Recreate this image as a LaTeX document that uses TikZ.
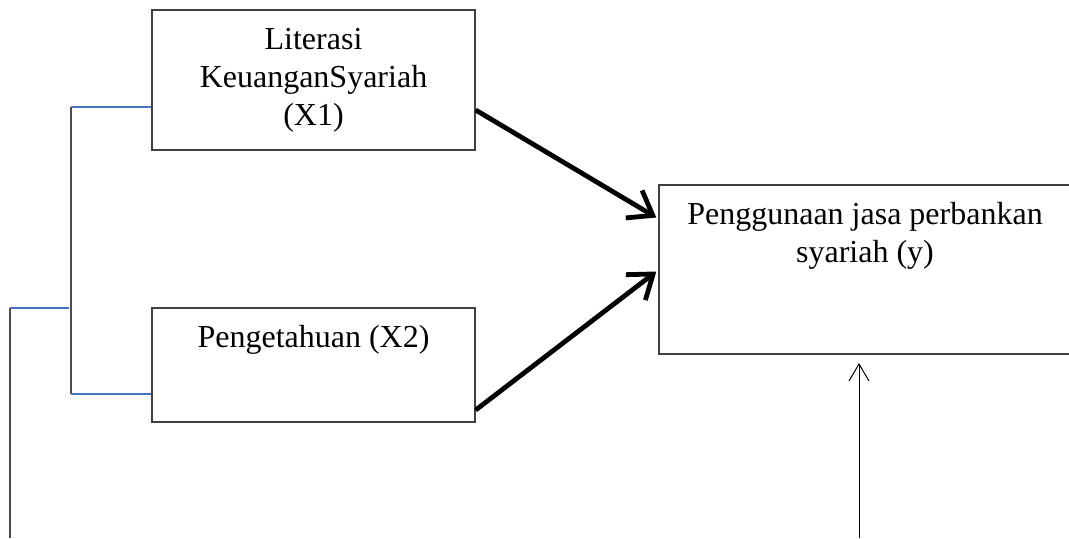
\documentclass[tikz,border=0pt]{standalone}
\usepackage{fontspec}
\setmainfont{Liberation Serif}
\usetikzlibrary{arrows.meta,positioning}
\definecolor{garisbiru}{HTML}{4472C4}

\begin{document}
\begin{tikzpicture}[x=0.5pt, y=-0.5pt, font=\fontsize{16}{19}\selectfont,
  box/.style={draw=black!75, line width=0.65pt, minimum width=161.5pt, inner sep=0pt},
  lbl/.style={anchor=base, inner sep=0pt, align=center},
  panah/.style={-{Straight Barb[length=11pt,width=16pt]}, line width=2.4pt},
  panahtipis/.style={-{Straight Barb[length=8.5pt,width=10pt]}, line width=0.5pt},
  abu/.style={draw=black!70, line width=0.75pt},
  biru/.style={draw=garisbiru, line width=0.6pt}]
\useasboundingbox (0,0) rectangle (1069,538);

% kotak variabel
\node[box, minimum height=70pt] (lit) at (313.5,80) {};
\node[box, minimum height=57pt] (peng) at (313.5,365) {};
\node[box, minimum width=206pt, minimum height=84.5pt] (guna) at (865,269.5) {};

% teks (base = baris terakhir)
\node[lbl] (litT) at (313.5,125) {Literasi\\KeuanganSyariah\\(X1)};
\node[lbl] (pengT) at (313.5,347) {Pengetahuan (X2)};
\node[lbl] (gunaT) at (865,262) {Penggunaan jasa perbankan\\syariah (y)};

% panah pengaruh
\draw[panah] ([yshift=-15pt]lit.east) -- ([yshift=26pt,xshift=-1pt]guna.west);
\draw[panah] ([yshift=-22.5pt]peng.east) -- ([yshift=-1pt,xshift=-1pt]guna.west);

% garis kurung kiri
\coordinate (kA) at (71,107);
\coordinate (kB) at (71,394);
\coordinate (kC) at (71,308);
\coordinate (kD) at (10,308);
\coordinate (kE) at (10,538);
\draw[abu] (kA) -- (kB);
\draw[biru] (kA) -- (kA -| lit.west);
\draw[biru] (kB) -- (kB -| peng.west);
\draw[biru] (kD) -- ([xshift=-1pt]kC);
\draw[abu] (kD) -- (kE);

% panah bawah
\coordinate (bawah) at (859,538);
\coordinate (ujung) at (859,363);
\draw[panahtipis] (bawah) -- (ujung);
\end{tikzpicture}
\end{document}
